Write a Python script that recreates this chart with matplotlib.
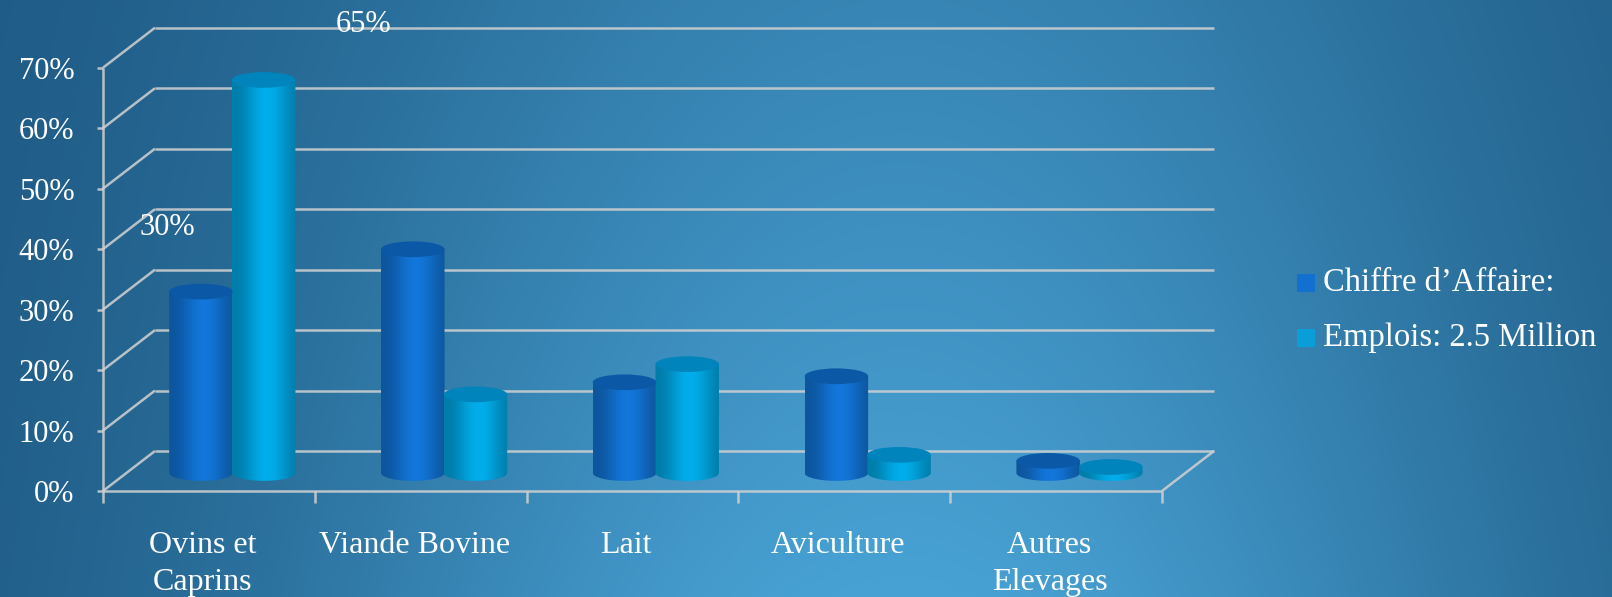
import numpy as np
import matplotlib
matplotlib.use("Agg")
import matplotlib.pyplot as plt
from matplotlib.patches import Polygon, Ellipse, Rectangle

plt.rcParams["font.family"] = ["Liberation Serif", "DejaVu Serif"]

# --- data ---------------------------------------------------------------
categories = ["Ovins et\nCaprins", "Viande Bovine", "Lait", "Aviculture", "Autres\nElevages"]
series_names = ["Chiffre d\u2019Affaire:", "Emplois: 2.5 Million"]
chiffre = [30, 37, 15, 16, 2]
emplois = [65, 13, 18, 3, 1]
y_ticks = [0, 10, 20, 30, 40, 50, 60, 70]
y_ticklabels = ["0%", "10%", "20%", "30%", "40%", "50%", "60%", "70%"]
# the two data labels shown in the source (series index, category index, text)
data_labels = [(0, 0, "30%"), (1, 0, "65%")]

# --- geometry (front plane in data units) -------------------------------
PX_X = 211.8          # pixels per category
PX_Y = 6.047          # pixels per percent
X0, Y0 = 103, 491     # pixel position of origin (from top-left)
DX, DY = 52 / PX_X, 40 / PX_Y   # depth offset of back wall
BAR_W = 0.3
BAR_OFF = 0.148
DEPTH_FRAC = 0.45
EH = 2.6              # ellipse height in percent units

fig = plt.figure(figsize=(16.12, 5.97), dpi=100)
ax = fig.add_axes([0, 0, 1, 1])
xlim = (-X0 / PX_X, (1612 - X0) / PX_X)
ylim = (-(597 - Y0) / PX_Y, Y0 / PX_Y)

# background gradient: light band in the middle, darker sides and top
H, W = 300, 800
yy, xx = np.mgrid[0:1:H * 1j, 0:1:W * 1j]
hx = np.exp(-((xx - 0.56) / 0.40) ** 2)
t = hx * (0.62 + 0.38 * yy)
dark = np.array([28, 86, 128]) / 255
light = np.array([72, 162, 212]) / 255
bg = dark + (light - dark) * t[..., None]
ax.imshow(bg, extent=[xlim[0], xlim[1], ylim[0], ylim[1]], aspect="auto",
          origin="upper", zorder=0)

grid_kw = dict(color="#d2d2d2", lw=1.8, alpha=0.85, zorder=1, solid_capstyle="butt")
n = len(categories)
for v in y_ticks:
    ax.plot([0, DX], [v, v + DY], **grid_kw)
    ax.plot([DX, n + DX], [v + DY, v + DY], **grid_kw)
    ax.plot([-0.03, 0], [v, v], **grid_kw)
ax.plot([0, 0], [0, y_ticks[-1]], **grid_kw)
ax.plot([0, n], [0, 0], **grid_kw)
ax.plot([n, n + DX], [0, DY], **grid_kw)
for i in range(n + 1):
    ax.plot([i, i], [0, -2.0], **grid_kw)

for v, lab in zip(y_ticks, y_ticklabels):
    ax.text(-0.135, v - 0.6, lab, ha="right", va="center", color="white", fontsize=22)

for i, lab in enumerate(categories):
    ax.text(i + 0.47, -6.6, lab, ha="center", va="top", color="white",
            fontsize=23, linespacing=1.36)


def shade(c_mid, n_px=60):
    u = np.linspace(0, 1, n_px)
    b = 0.74 + 0.28 * np.cos((u - 0.55) * np.pi * 0.95) ** 2
    col = np.clip(np.outer(b, c_mid), 0, 1)
    return col[None, :, :]


def cylinder(xc, y0, val, c_mid, c_top):
    w = BAR_W
    yt = y0 + val
    th = np.linspace(np.pi, 2 * np.pi, 40)
    pts = [(xc + w / 2 * np.cos(a), y0 + EH / 2 * np.sin(a)) for a in th]
    pts += [(xc + w / 2, yt), (xc - w / 2, yt)]
    body = Polygon(pts, closed=True, facecolor="none", edgecolor="none")
    ax.add_patch(body)
    im = ax.imshow(shade(np.array(c_mid) / 255), extent=[xc - w / 2, xc + w / 2, y0 - EH, yt],
                   aspect="auto", zorder=3, interpolation="bilinear")
    im.set_clip_path(body)
    ax.add_patch(Ellipse((xc, yt), w, EH, facecolor=np.array(c_top) / 255,
                         edgecolor="none", zorder=4))


series = [chiffre, emplois]
mids = [(18, 116, 214), (0, 170, 230)]
tops = [(10, 88, 166), (0, 132, 188)]
base_y = DEPTH_FRAC * DY
for i in range(n):
    for s, vals in enumerate(series):
        xc = i + 0.5 + DEPTH_FRAC * DX + (-BAR_OFF if s == 0 else BAR_OFF)
        cylinder(xc, base_y, vals[i], mids[s], tops[s])

label_offsets = {(0, 0): (-0.16, 13.6), (1, 0): (0.47, 12.2)}
for s, i, txt in data_labels:
    xc = i + 0.5 + DEPTH_FRAC * DX + (-BAR_OFF if s == 0 else BAR_OFF)
    ox, oy = label_offsets[(s, i)]
    ax.text(xc + ox, series[s][i] + oy, txt, ha="center", va="center",
            color="white", fontsize=22, zorder=5)

ax.set_xlim(*xlim)
ax.set_ylim(*ylim)
ax.axis("off")

# legend
leg_cols = ["#1270d0", "#0a9ed8"]
for k, (name, c) in enumerate(zip(series_names, leg_cols)):
    yc = (597 - (283 + 55 * k)) / 597
    fig.patches.append(Rectangle((1297 / 1612, yc - 9 / 597), 18 / 1612, 18 / 597,
                                 transform=fig.transFigure, facecolor=c, edgecolor="none"))
    fig.text(1323 / 1612, yc, name, ha="left", va="center", color="white", fontsize=23.5)

fig.savefig("out.png", dpi=100)
